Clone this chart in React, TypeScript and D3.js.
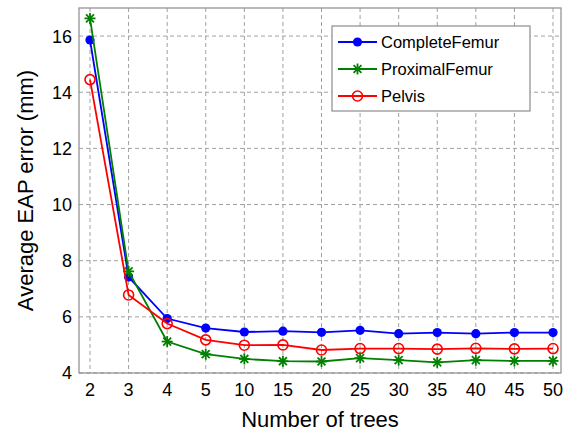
import React from 'react';
import * as d3 from 'd3';

const trees = ['2', '3', '4', '5', '10', '15', '20', '25', '30', '35', '40', '45', '50'];
const completeFemur = [15.86, 7.42, 5.94, 5.6, 5.46, 5.49, 5.45, 5.52, 5.4, 5.44, 5.4, 5.44, 5.44];
const proximalFemur = [16.63, 7.62, 5.12, 4.67, 4.5, 4.42, 4.41, 4.53, 4.46, 4.38, 4.46, 4.43, 4.43];
const pelvis = [14.45, 6.78, 5.76, 5.18, 4.99, 5.0, 4.82, 4.87, 4.87, 4.85, 4.88, 4.86, 4.87];
const yTicks = [4, 6, 8, 10, 12, 14, 16];
const seriesNames = ['CompleteFemur', 'ProximalFemur', 'Pelvis'];

const width = 573, height = 431;
const box = { left: 79, right: 561, top: 8, bottom: 373 };
const font = 'Arial, "Liberation Sans", Helvetica, sans-serif';

function Marker({ kind, x, y, color }: { kind: string; x: number; y: number; color: string }) {
  if (kind === 'dot') return <circle cx={x} cy={y} r={4.6} fill={color} />;
  if (kind === 'ring') return <circle cx={x} cy={y} r={5} fill="none" stroke={color} strokeWidth={1.6} />;
  const r = 5.5, d = r * 0.72;
  return (
    <g stroke={color} strokeWidth={1.8}>
      <line x1={x - r} y1={y} x2={x + r} y2={y} />
      <line x1={x} y1={y - r} x2={x} y2={y + r} />
      <line x1={x - d} y1={y - d} x2={x + d} y2={y + d} />
      <line x1={x - d} y1={y + d} x2={x + d} y2={y - d} />
    </g>
  );
}

export default function App() {
  const x = d3.scalePoint<string>().domain(trees).range([90, 553]).padding(0);
  const y = d3.scaleLinear().domain([4, 17]).range([box.bottom, box.top]);

  const series = [
    { name: seriesNames[0], values: completeFemur, color: '#0000ff', kind: 'dot' },
    { name: seriesNames[1], values: proximalFemur, color: '#008000', kind: 'star' },
    { name: seriesNames[2], values: pelvis, color: '#ff0000', kind: 'ring' },
  ];

  const line = d3.line<number>()
    .x((_, i) => x(trees[i]) as number)
    .y(d => y(d));

  const grid = '#a0a0a0';

  return (
    <svg width={width} height={height} style={{ position: 'absolute', left: 0, top: 0, background: '#fff' }}
      fontFamily={font}>
      <rect x={0} y={0} width={width} height={height} fill="#fff" />
      {/* grid */}
      {trees.map(t => (
        <line key={'gx' + t} x1={x(t)} x2={x(t)} y1={box.top} y2={box.bottom}
          stroke={grid} strokeWidth={1} strokeDasharray="4,3" />
      ))}
      {yTicks.map(v => (
        <line key={'gy' + v} x1={box.left} x2={box.right} y1={y(v)} y2={y(v)}
          stroke={grid} strokeWidth={1} strokeDasharray="4,3" />
      ))}
      <rect x={box.left} y={box.top} width={box.right - box.left} height={box.bottom - box.top}
        fill="none" stroke="#8c8c8c" strokeWidth={1.2} />

      {/* tick labels */}
      {trees.map(t => (
        <text key={'tx' + t} x={x(t)} y={396} fontSize={18} textAnchor="middle" fill="#000">{t}</text>
      ))}
      {yTicks.map(v => (
        <text key={'ty' + v} x={72} y={y(v)} dy="0.36em" fontSize={18} textAnchor="end" fill="#000">{v}</text>
      ))}

      {/* axis titles */}
      <text x={(box.left + box.right) / 2} y={427} fontSize={22} textAnchor="middle" fill="#000">Number of trees</text>
      <text transform={`translate(33,${(box.top + box.bottom) / 2}) rotate(-90)`} fontSize={22}
        textAnchor="middle" fill="#000">Average EAP error (mm)</text>

      {/* series */}
      {series.map(s => (
        <g key={s.name}>
          <path d={line(s.values) || ''} fill="none" stroke={s.color} strokeWidth={1.8} />
          {s.values.map((v, i) => (
            <Marker key={i} kind={s.kind} x={x(trees[i]) as number} y={y(v)} color={s.color} />
          ))}
        </g>
      ))}

      {/* legend */}
      <g>
        <rect x={332} y={26} width={198} height={85} fill="#fff" stroke="#8c8c8c" strokeWidth={1.2} />
        {series.map((s, i) => {
          const ly = 42 + i * 27;
          return (
            <g key={'lg' + s.name}>
              <line x1={338} x2={377} y1={ly} y2={ly} stroke={s.color} strokeWidth={1.8} />
              <Marker kind={s.kind} x={357.5} y={ly} color={s.color} />
              <text x={381} y={ly} dy="0.36em" fontSize={16.5} fill="#000">{s.name}</text>
            </g>
          );
        })}
      </g>
    </svg>
  );
}
